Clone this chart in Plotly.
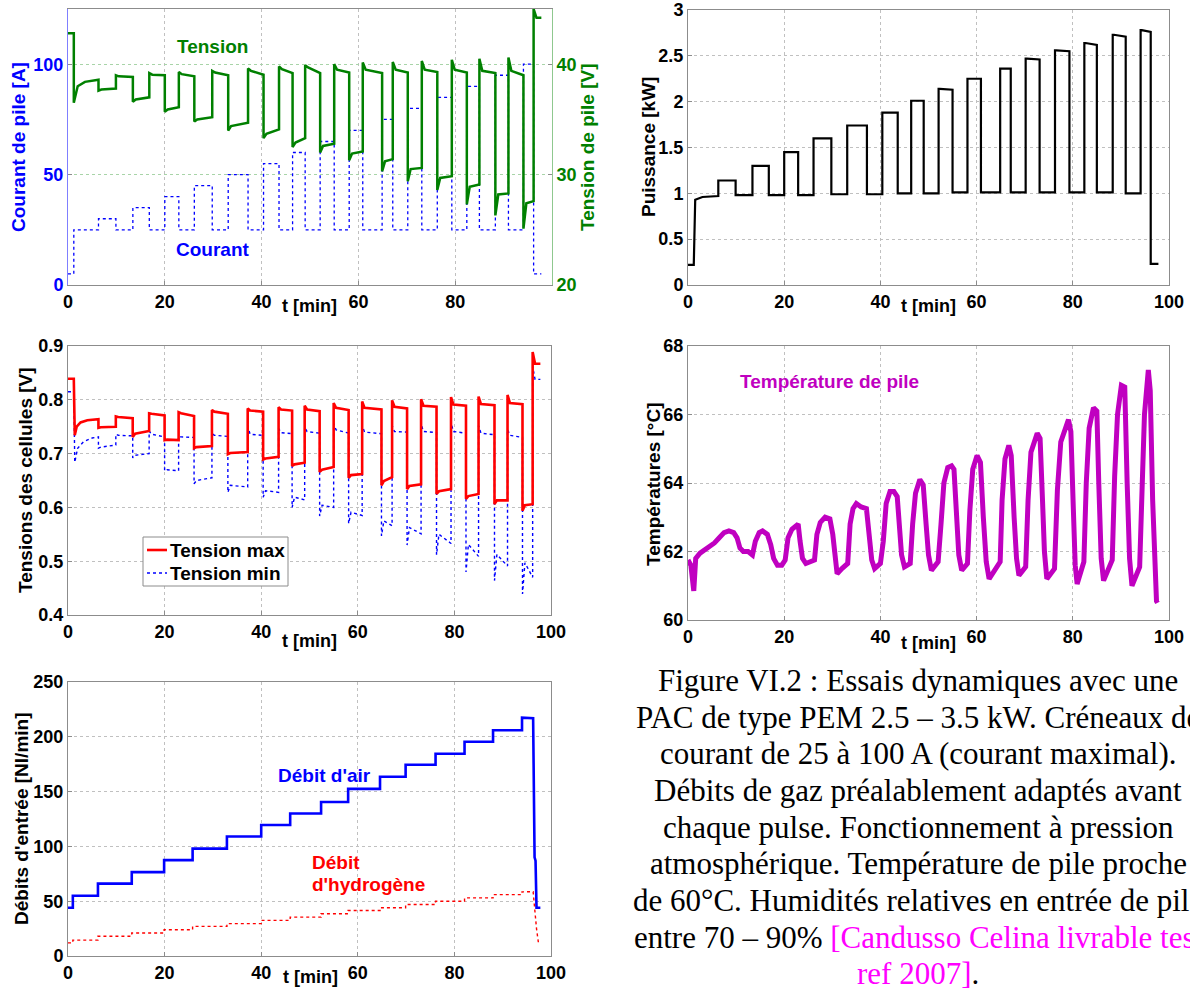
import plotly.graph_objects as go

# ================= DATA =================
# common pulse schedule [min]
T_LOAD = 1.2
T_ON = [6.3, 13.4, 20.0, 26.1, 33.1, 40.4, 46.4, 52.1, 58.1, 64.9, 70.2, 76.3, 82.4, 88.3, 94.1]
T_OFF = [9.9, 16.8, 22.9, 29.8, 37.2, 43.6, 49.0, 55.0, 60.9, 67.1, 73.1, 79.3, 85.0, 91.0, 96.2]
T_STOP = 97.8

# --- stack current [A]
CUR_IDLE = 5
CUR_BASE = 25
CUR_PULSE = [30, 35, 40, 45, 50, 55, 60, 65, 70, 75, 80, 85, 90, 95, 100]

# --- stack voltage [V]
V_IDLE0 = 42.8
V_SEG0_T = [1.2, 2.0, 3.5, 6.3]
V_SEG0_V = [36.5, 38.0, 38.4, 38.6]
V_P_SPIKE = [37.6, 36.6, 35.7, 34.8, 34.0, 33.3, 32.5, 32.0, 31.3, 30.3, 29.4, 28.6, 27.3, 26.3, 25.1]
V_P_START = [37.7, 36.8, 35.9, 35.0, 34.4, 33.7, 32.9, 32.6, 31.9, 31.2, 30.5, 29.7, 28.9, 28.2, 27.4]
V_P_END = [37.8, 37.0, 36.1, 35.2, 34.7, 34.1, 33.3, 32.8, 32.1, 31.4, 30.6, 29.85, 29.1, 28.3, 27.6]
V_B_SPIKE = [39.0, 39.2, 39.3, 39.4, 39.6, 39.8, 39.9, 40.0, 40.15, 40.2, 40.3, 40.4, 40.5, 40.6]
V_B_START = [38.9, 39.05, 39.1, 39.25, 39.4, 39.55, 39.7, 39.5, 39.5, 39.5, 39.5, 39.5, 39.4, 39.4]
V_B_END = [38.85, 39.0, 38.9, 39.0, 39.05, 39.2, 39.2, 39.25, 39.2, 39.25, 39.3, 39.25, 39.2, 39.0]
V_IDLE_SPIKE, V_IDLE_END = 45.0, 44.2

# --- power [kW]
P_IDLE0 = 0.22
P_SEG0_T = [1.5, 3.0, 6.3]
P_SEG0_V = [0.93, 0.96, 0.97]
P_PULSE = [1.14, 1.30, 1.45, 1.60, 1.74, 1.88, 2.01, 2.14, 2.25, 2.36, 2.47, 2.56, 2.64, 2.73, 2.78]
P_PULSE_END = [1.14, 1.30, 1.45, 1.60, 1.74, 1.88, 2.01, 2.13, 2.25, 2.36, 2.46, 2.55, 2.62, 2.71, 2.76]
P_BASE = [0.98, 0.98, 0.98, 0.99, 0.99, 1.0, 1.0, 1.01, 1.01, 1.01, 1.01, 1.01, 1.01, 1.0]
P_IDLE_END = 0.23

# --- max cell voltage [V]
R_IDLE0 = 0.839
R_SEG0_T = [1.4, 1.8, 2.6, 4.0, 6.3]
R_SEG0_V = [0.734, 0.750, 0.758, 0.762, 0.764]
R_P_SPIKE = [0.748, 0.731, 0.725, 0.710, 0.699, 0.689, 0.677, 0.666, 0.655, 0.641, 0.634, 0.625, 0.616, 0.606, 0.594]
R_P_START = [0.749, 0.737, 0.726, 0.712, 0.701, 0.691, 0.680, 0.670, 0.660, 0.649, 0.640, 0.630, 0.621, 0.613, 0.604]
R_P_END = [0.750, 0.742, 0.725, 0.714, 0.703, 0.694, 0.683, 0.675, 0.662, 0.656, 0.643, 0.634, 0.625, 0.613, 0.606]
R_B_SPIKE = [0.769, 0.775, 0.777, 0.781, 0.784, 0.786, 0.789, 0.794, 0.797, 0.799, 0.801, 0.805, 0.806, 0.809]
R_B_START = [0.768, 0.774, 0.775, 0.778, 0.780, 0.782, 0.782, 0.785, 0.785, 0.787, 0.789, 0.791, 0.792, 0.794]
R_B_END = [0.766, 0.771, 0.770, 0.774, 0.778, 0.780, 0.779, 0.781, 0.782, 0.784, 0.787, 0.789, 0.790, 0.792]
R_IDLE_SPIKE, R_IDLE_END = 0.889, 0.867

# --- min cell voltage [V]
B_IDLE0 = 0.815
B_SEG0_T = [1.4, 2.0, 3.2, 5.0, 6.3]
B_SEG0_V = [0.684, 0.710, 0.722, 0.729, 0.731]
B_P_SPIKE = [0.710, 0.692, 0.668, 0.644, 0.628, 0.619, 0.600, 0.584, 0.570, 0.547, 0.530, 0.512, 0.480, 0.464, 0.439]
B_P_START = [0.712, 0.697, 0.670, 0.650, 0.641, 0.631, 0.619, 0.604, 0.591, 0.575, 0.5625, 0.550, 0.531, 0.5125, 0.497]
B_P_END = [0.716, 0.700, 0.668, 0.655, 0.638, 0.628, 0.614, 0.600, 0.585, 0.566, 0.551, 0.533, 0.509, 0.491, 0.470]
B_B_SPIKE = [0.736, 0.742, 0.732, 0.738, 0.751, 0.747, 0.749, 0.756, 0.752, 0.752, 0.755, 0.757, 0.752, 0.745]
B_B_START = [0.734, 0.736, 0.731, 0.734, 0.736, 0.739, 0.741, 0.744, 0.740, 0.741, 0.741, 0.741, 0.738, 0.734]
B_B_END = [0.733, 0.731, 0.730, 0.732, 0.734, 0.737, 0.738, 0.738, 0.737, 0.740, 0.739, 0.738, 0.735, 0.730]
B_IDLE_SPIKE, B_IDLE_END = 0.862, 0.838

# --- stack temperature [°C]
TEMP_T = [0.0, 0.6, 1.2, 1.6, 2.5, 4.0, 5.5, 6.5, 7.5, 8.5, 9.5, 10.2, 10.8, 11.5, 12.5, 13.4,
          14.0, 14.8, 15.5, 16.5, 17.2, 17.8, 18.6, 19.5, 20.2, 20.8, 21.6, 22.5, 22.9, 23.3,
          23.8, 24.5, 25.5, 26.3, 26.8, 27.5, 28.5, 29.5, 30.1, 30.6, 31.0, 32.0, 33.2, 33.7,
          34.3, 35.0, 36.0, 37.1, 37.6, 38.2, 38.8, 40.0, 40.6, 41.2, 42.0, 42.8, 43.5, 43.9,
          44.4, 45.0, 46.2, 46.7, 47.3, 48.2, 48.9, 49.5, 50.0, 50.6, 52.0, 52.6, 53.2, 54.0,
          54.8, 55.3, 55.8, 56.3, 56.9, 58.1, 58.6, 59.2, 60.1, 60.8, 61.4, 62.0, 62.6, 63.9,
          64.9, 65.3, 65.9, 66.7, 67.2, 67.8, 68.3, 68.8, 70.2, 70.7, 71.3, 72.6, 73.2, 73.7,
          74.1, 74.6, 76.2, 76.8, 77.5, 79.1, 79.6, 80.1, 80.5, 80.9, 82.3, 82.8, 83.4, 84.3,
          85.0, 85.4, 85.9, 86.4, 88.2, 88.7, 89.3, 90.1, 90.8, 91.3, 91.8, 92.3, 93.9, 94.4,
          94.9, 95.7, 96.1, 96.6, 97.0, 97.4, 97.6]
TEMP_V = [61.75, 61.6, 60.85, 61.8, 61.95, 62.1, 62.25, 62.4, 62.55, 62.6, 62.55, 62.4, 62.1, 62.0, 62.0, 61.9,
          62.3, 62.55, 62.6, 62.5, 62.2, 61.8, 61.6, 61.6, 61.75, 62.4, 62.65, 62.75, 62.8, 62.3,
          61.8, 61.65, 61.7, 61.75, 62.5, 62.85, 63.0, 62.95, 62.5, 61.7, 61.35, 61.5, 61.65, 62.8,
          63.25, 63.4, 63.3, 63.25, 62.5, 61.75, 61.5, 61.65, 62.3, 63.4, 63.75, 63.75, 63.6, 62.8,
          61.9, 61.55, 61.65, 62.8, 63.7, 64.1, 63.95, 62.8, 61.9, 61.45, 61.7, 62.8, 64.0, 64.45,
          64.5, 64.4, 63.0, 61.9, 61.45, 61.65, 63.2, 64.4, 64.8, 64.6, 63.0, 61.7, 61.2, 61.45,
          61.7, 63.5, 64.7, 65.1, 64.8, 63.0, 61.8, 61.3, 61.55, 63.5, 64.9, 65.45, 65.3, 63.5,
          62.0, 61.2, 61.5, 63.8, 65.2, 65.85, 65.5, 63.3, 61.6, 61.05, 61.7, 64.0, 65.6, 66.2,
          66.1, 64.0, 61.8, 61.15, 61.75, 64.2, 66.0, 66.85, 66.8, 64.0, 61.8, 61.0, 61.55, 63.8,
          66.0, 67.3, 66.7, 63.5, 61.5, 60.55, 60.5]

# --- inlet flows [Nl/min]
FLOW_STEP_T = [1.0, 6.2, 13.2, 19.9, 25.8, 32.9, 40.0, 46.0, 52.4, 58.0, 64.6, 69.9, 76.1, 82.1, 88.0, 94.0]
AIR_LEVEL = [44, 55, 66, 76.5, 87.5, 98, 109, 119.5, 130, 140.5, 152.5, 163.5, 174.5, 184.5, 195.5, 206, 217.5]
AIR_END_T = [96.3, 96.6, 96.8, 97.0, 97.8]
AIR_END_V = [217.0, 90.0, 87.0, 44.0, 44.0]
H2_LEVEL = [12, 14.5, 18, 21, 24, 27, 29.5, 32.5, 35.5, 38.5, 41.5, 44, 47, 50, 53, 56, 58.5]
H2_END_T = [96.3, 97.0, 97.4, 97.7]
H2_END_V = [58.7, 25.0, 12.0, 12.0]

CAPTION = [
    "Figure VI.2 : Essais dynamiques avec une",
    "PAC de type PEM 2.5 – 3.5 kW. Créneaux de",
    "courant de 25 à 100 A (courant maximal).",
    "Débits de gaz préalablement adaptés avant",
    "chaque pulse. Fonctionnement à pression",
    "atmosphérique. Température de pile proche",
    "de 60°C. Humidités relatives en entrée de pile",
    "entre 70 – 90% <span style='color:#FF00FF'>[Candusso Celina livrable test</span>",
    "<span style='color:#FF00FF'>ref 2007]</span>.",
]

# ================= helpers =================
W, H = 1190, 988


def fx(x):
    return x / W


def fy(y):
    return 1 - y / H


def pulse_series(idle0, seg0_t, seg0_v, p_spike, p_start, p_end,
                 b_spike, b_start, b_end, idle_spike, idle_end, settle):
    t = [0.0, T_LOAD]
    v = [idle0, idle0]
    t += list(seg0_t)
    v += list(seg0_v)
    n = len(T_ON)
    for i in range(n):
        t += [T_ON[i], T_ON[i] + settle, T_OFF[i]]
        v += [p_spike[i], p_start[i], p_end[i]]
        if i < n - 1:
            t += [T_OFF[i], T_OFF[i] + settle, T_ON[i + 1]]
            v += [b_spike[i], b_start[i], b_end[i]]
    t += [T_OFF[-1], T_OFF[-1] + settle, T_STOP]
    v += [idle_spike, idle_end, idle_end]
    return t, v


def step_series(step_t, levels, end_t, end_v):
    t = [0.0]
    v = [levels[0]]
    for i, ts in enumerate(step_t):
        t += [ts, ts]
        v += [levels[i], levels[i + 1]]
    t += list(end_t)
    v += list(end_v)
    return t, v


# ================= build traces =================
BLUE = "#0000FF"
GREEN = "#008000"
RED = "#FF0000"
MAG = "#C000C0"

fig = go.Figure()

# Panel 1: current & voltage
n = len(T_ON)
cur_t, cur_v = pulse_series(CUR_IDLE, [T_LOAD, T_ON[0]], [CUR_BASE, CUR_BASE],
                            CUR_PULSE, CUR_PULSE, CUR_PULSE,
                            [CUR_BASE] * (n - 1), [CUR_BASE] * (n - 1), [CUR_BASE] * (n - 1),
                            CUR_IDLE, CUR_IDLE, 0.0)
fig.add_trace(go.Scatter(x=cur_t, y=cur_v, mode="lines", name="Courant",
                         line=dict(color=BLUE, width=1.3, dash="dot"),
                         xaxis="x", yaxis="y", showlegend=False))
vt, vv = pulse_series(V_IDLE0, V_SEG0_T, V_SEG0_V, V_P_SPIKE, V_P_START, V_P_END,
                      V_B_SPIKE, V_B_START, V_B_END, V_IDLE_SPIKE, V_IDLE_END, 0.6)
fig.add_trace(go.Scatter(x=vt, y=vv, mode="lines", name="Tension",
                         line=dict(color=GREEN, width=2.5),
                         xaxis="x", yaxis="y2", showlegend=False))

# Panel 2: power
pt, pv = pulse_series(P_IDLE0, P_SEG0_T, P_SEG0_V, P_PULSE, P_PULSE, P_PULSE_END,
                      P_BASE, P_BASE, P_BASE, P_IDLE_END, P_IDLE_END, 0.25)
fig.add_trace(go.Scatter(x=pt, y=pv, mode="lines", name="Puissance",
                         line=dict(color="#000000", width=2.2),
                         xaxis="x3", yaxis="y3", showlegend=False))

# Panel 3: cell voltages
bt, bv = pulse_series(B_IDLE0, B_SEG0_T, B_SEG0_V, B_P_SPIKE, B_P_START, B_P_END,
                      B_B_SPIKE, B_B_START, B_B_END, B_IDLE_SPIKE, B_IDLE_END, 0.5)
fig.add_trace(go.Scatter(x=bt, y=bv, mode="lines", name="Tension min",
                         line=dict(color=BLUE, width=1.4, dash="dot"),
                         xaxis="x4", yaxis="y4", showlegend=False))
rt, rv = pulse_series(R_IDLE0, R_SEG0_T, R_SEG0_V, R_P_SPIKE, R_P_START, R_P_END,
                      R_B_SPIKE, R_B_START, R_B_END, R_IDLE_SPIKE, R_IDLE_END, 0.5)
fig.add_trace(go.Scatter(x=rt, y=rv, mode="lines", name="Tension max",
                         line=dict(color=RED, width=2.6),
                         xaxis="x4", yaxis="y4", showlegend=False))

# Panel 4: temperature
fig.add_trace(go.Scatter(x=TEMP_T, y=TEMP_V, mode="lines", name="Température de pile",
                         line=dict(color=MAG, width=5),
                         xaxis="x5", yaxis="y5", showlegend=False))

# Panel 5: flows
h2t, h2v = step_series(FLOW_STEP_T, H2_LEVEL, H2_END_T, H2_END_V)
fig.add_trace(go.Scatter(x=h2t, y=h2v, mode="lines", name="Débit d'hydrogène",
                         line=dict(color=RED, width=1.4, dash="dot"),
                         xaxis="x6", yaxis="y6", showlegend=False))
at, av = step_series(FLOW_STEP_T, AIR_LEVEL, AIR_END_T, AIR_END_V)
fig.add_trace(go.Scatter(x=at, y=av, mode="lines", name="Débit d'air",
                         line=dict(color=BLUE, width=2.6),
                         xaxis="x6", yaxis="y6", showlegend=False))

# ================= layout =================
TICKF = dict(family="Liberation Sans, Arial, sans-serif", size=18, color="#000000", weight="bold")
GRID = dict(showgrid=True, gridcolor="#c0c0c0", griddash="dot", gridwidth=1, zeroline=False)
BOX = dict(showline=True, linecolor="#8c8c8c", linewidth=1, mirror=True,
           ticks="inside", ticklen=4, tickcolor="#8c8c8c", automargin=False)

L_X = [fx(68), fx(551)]
R_X = [fx(688), fx(1169)]


def xax(domain, anchor, tickvals):
    d = dict(domain=domain, anchor=anchor, range=[0, 100], tickvals=tickvals,
             tickfont=TICKF, **GRID, **BOX)
    return d


def yax(domain, anchor, rng, tickvals, color="#000000", ticktext=None):
    tf = dict(TICKF)
    tf["color"] = color
    d = dict(domain=domain, anchor=anchor, range=rng, tickvals=tickvals, tickfont=tf,
             **GRID, **BOX)
    if ticktext is not None:
        d["ticktext"] = ticktext
    return d


X_TICKS = [0, 20, 40, 60, 80, 100]

layout = dict(
    width=W, height=H,
    margin=dict(l=0, r=0, t=0, b=0, autoexpand=False),
    paper_bgcolor="white", plot_bgcolor="white",
    showlegend=False,
    xaxis=xax([fx(68), fx(552)], "y", [0, 20, 40, 60, 80]),
    xaxis3=xax(R_X, "y3", X_TICKS),
    xaxis4=xax(L_X, "y4", X_TICKS),
    xaxis5=xax(R_X, "y5", X_TICKS),
    xaxis6=xax(L_X, "y6", X_TICKS),
    yaxis3=yax([fy(285), fy(10)], "x3", [0, 3], [0, 0.5, 1, 1.5, 2, 2.5, 3]),
    yaxis4=yax([fy(615), fy(346)], "x4", [0.4, 0.9], [0.4, 0.5, 0.6, 0.7, 0.8, 0.9],
               ticktext=["0.4", "0.5", "0.6", "0.7", "0.8", "0.9"]),
    yaxis5=yax([fy(620), fy(346)], "x5", [60, 68], [60, 62, 64, 66, 68]),
    yaxis6=yax([fy(956), fy(682)], "x6", [0, 250], [0, 50, 100, 150, 200, 250]),
)
# panel 1 double y axis
y1 = yax([fy(285), fy(9)], "x", [0, 125], [0, 50, 100], color=BLUE)
y1.update(mirror=False, linecolor="#7f7fff", gridcolor="#a8a8e0")
layout["yaxis"] = y1
y2 = yax([fy(285), fy(9)], "x", [20, 45], [20, 30, 40], color=GREEN)
y2.update(overlaying="y", side="right", mirror=False, linecolor="#8fc88f", gridcolor="#a8d4a8")
layout["yaxis2"] = y2
fig.update_layout(**layout)

# ================= annotations =================
LAB = dict(family="Liberation Sans, Arial, sans-serif", size=19, weight="bold")
anns = []


def text(x, y, s, color="#000000", size=19, angle=0, xanchor="center", family=None, weight="bold"):
    f = dict(LAB)
    f.update(color=color, size=size, weight=weight)
    if family:
        f["family"] = family
    anns.append(dict(x=fx(x), y=fy(y), xref="paper", yref="paper", text=s, showarrow=False,
                     font=f, textangle=angle, xanchor=xanchor, yanchor="middle"))


# axis titles
text(18, 147, "Courant de pile [A]", BLUE, angle=-90)
text(587, 147, "Tension de pile [V]", GREEN, angle=-90)
text(648, 147, "Puissance [kW]", angle=-90)
text(26, 480, "Tensions des cellules [V]", angle=-90)
text(653, 484, "Températures [°C]", angle=-90)
text(21, 819, "Débits d'entrée [Nl/min]", angle=-90)
for (x, y) in [(309, 306), (928, 306), (309, 641), (928, 643), (310, 977)]:
    text(x, y, "t [min]", size=18)

# in-plot labels
text(212, 47, "Tension", GREEN)
text(213, 249, "Courant", BLUE)
text(829, 381, "Température de pile", MAG)
text(324, 775, "Débit d'air", BLUE)
text(310, 862, "Débit", RED, xanchor="left")
text(310, 884, "d'hydrogène", RED, xanchor="left")

# manual legend for panel 3
text(168, 550, "Tension max", xanchor="left")
text(168, 573, "Tension min", xanchor="left")

# caption (the reference image crops its right edge)
CAP_Y = [680, 717, 753, 790, 827, 863, 900, 937, 973]
for s, y in zip(CAPTION, CAP_Y):
    text(918, y, s, "#000000", size=31, family="Liberation Serif, Times New Roman, serif",
         weight="normal")

fig.update_layout(annotations=anns)

shapes = [
    dict(type="rect", xref="paper", yref="paper", x0=fx(143), x1=fx(288), y0=fy(586), y1=fy(537),
         line=dict(color="#8c8c8c", width=1), fillcolor="white", layer="above"),
    dict(type="line", xref="paper", yref="paper", x0=fx(147), x1=fx(167), y0=fy(550), y1=fy(550),
         line=dict(color=RED, width=2.6)),
    dict(type="line", xref="paper", yref="paper", x0=fx(147), x1=fx(167), y0=fy(573), y1=fy(573),
         line=dict(color=BLUE, width=1.4, dash="dot")),
]
fig.update_layout(shapes=shapes)

fig.write_html("out.html", config={"displayModeBar": False},
               post_script="document.body.style.margin='0px';document.body.style.padding='0px';")
